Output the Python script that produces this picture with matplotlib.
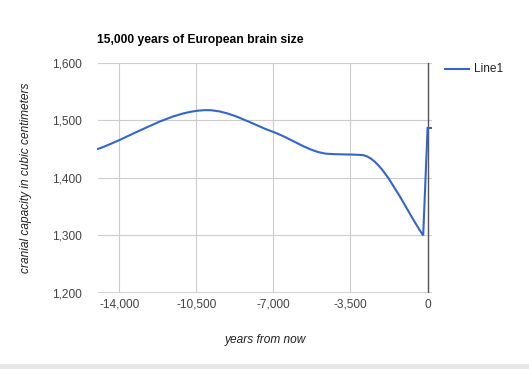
import matplotlib
matplotlib.use("Agg")
import matplotlib.pyplot as plt
from matplotlib.path import Path
from matplotlib.patches import PathPatch, Rectangle
from matplotlib.lines import Line2D
import numpy as np

plt.rcParams['font.family'] = ['Liberation Sans', 'DejaVu Sans']

years = [-15000, -10000, -7000, -4500, -3000, -200, 0, 200]
capacity = [1450, 1518, 1480, 1442, 1440, 1300, 1487, 1487]
series_name = "Line1"
title = "15,000 years of European brain size"
xlabel = "years from now"
ylabel = "cranial capacity in cubic centimeters"
xticks = [-14000, -10500, -7000, -3500, 0]
yticks = [1200, 1300, 1400, 1500, 1600]

fig = plt.figure(figsize=(5.29, 3.69), dpi=100)
fig.patches.append(Rectangle((0, 0), 1, 5/369, transform=fig.transFigure,
                             facecolor='#e8e8e8', edgecolor='none', zorder=0))
ax = fig.add_axes([98/529, 1-293/369, 334/529, 230/369])
ax.set_xlim(-14960, 200)
ax.set_ylim(1200, 1600)

# monotone cubic smoothing drawn as Bezier path through the data points;
# the last three points (the sharp dip and jump) are joined with straight segments
x = np.array(years, float); y = np.array(capacity, float)
n = len(x)
h = np.diff(x); d = np.diff(y) / h
m = np.zeros(n)
m[0] = d[0]; m[-1] = d[-1]
for i in range(1, n-1):
    if d[i-1] * d[i] <= 0:
        m[i] = 0
    else:
        w1 = 2*h[i] + h[i-1]; w2 = h[i] + 2*h[i-1]
        m[i] = (w1 + w2) / (w1/d[i-1] + w2/d[i])
corner = n - 3  # the dip point: arrive with the one-sided slope
verts = [(x[0], y[0])]; codes = [Path.MOVETO]
for i in range(n-1):
    mi, mj = m[i], m[i+1]
    if i + 1 == corner:
        mj = d[i] * 1.15
    c1 = (x[i] + h[i]/3, y[i] + mi*h[i]/3)
    c2 = (x[i+1] - h[i]/3, y[i+1] - mj*h[i]/3)
    if i >= corner:
        c1 = (x[i], y[i]); c2 = (x[i+1], y[i+1])
    verts += [c1, c2, (x[i+1], y[i+1])]; codes += [Path.CURVE4]*3
ax.add_patch(PathPatch(Path(verts, codes), facecolor='none', edgecolor='#3366cc',
                       lw=1.5, zorder=3, capstyle='butt', joinstyle='miter',
                       clip_on=False))

for s in ax.spines.values():
    s.set_visible(False)
ax.set_xticks(xticks)
ax.set_yticks(yticks)
ax.set_xticklabels([f"{v:,}" for v in xticks])
ax.set_yticklabels([f"{v:,}" for v in yticks])
ax.tick_params(length=0, labelsize=8.6, colors='#444444', pad=4)
ax.tick_params(axis='y', pad=12)
ax.grid(True, color='#cccccc', lw=0.8, zorder=0)
ax.axhline(1200, color='#cccccc', lw=1.2, zorder=1)
ax.axvline(0, color='#555555', lw=1, zorder=2)

ax.set_xlabel(xlabel, style='italic', fontsize=8.6, color='#222222', labelpad=17)
ax.set_ylabel(ylabel, style='italic', fontsize=8.6, color='#222222', labelpad=14)
fig.text(97/529, 1-40/369, title, fontsize=8.7, fontweight='bold', va='center', ha='left')

leg_line = Line2D([445/529, 469/529], [1-69/369, 1-69/369], transform=fig.transFigure,
                  color='#3366cc', lw=1.5)
fig.lines.append(leg_line)
fig.text(474/529, 1-69/369, series_name, fontsize=8.6, color='#222222', va='center', ha='left')

fig.savefig("out.png", dpi=100)
